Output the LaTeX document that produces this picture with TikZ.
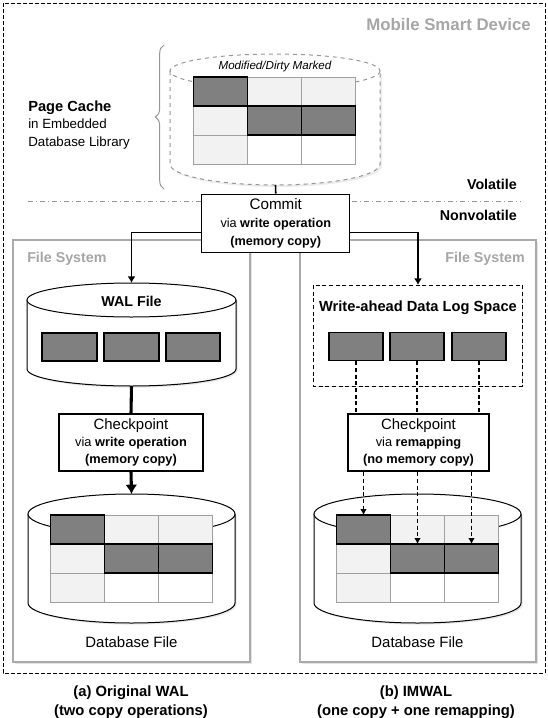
\documentclass[tikz,border=0pt]{standalone}
\usepackage{fontspec}
\setmainfont{Liberation Sans}
\usetikzlibrary{positioning,arrows.meta,shadows,decorations.pathreplacing}

\definecolor{blockgray}{RGB}{128,128,128}
\definecolor{cellgray}{RGB}{242,242,242}
\definecolor{gridgray}{RGB}{160,160,160}
\definecolor{fsgray}{RGB}{170,170,170}
\definecolor{labelgray}{RGB}{166,166,166}
\definecolor{cylgray}{RGB}{150,150,150}

\tikzset{
  devicebox/.style={draw=black, line width=0.75pt, dash pattern=on 3pt off 1.5pt},
  fsbox/.style={draw=fsgray, line width=0.9pt, fill=white, drop shadow={shadow xshift=1.2pt, shadow yshift=-1.2pt, fill=black!22}},
  graylabel/.style={text=labelgray, font=\fontsize{10.7}{13}\selectfont\bfseries, inner sep=0pt},
  boldlabel/.style={font=\fontsize{10.7}{13}\selectfont\bfseries, inner sep=0pt},
  levelline/.style={draw=cylgray, line width=0.75pt, dash pattern=on 4pt off 2pt on 1pt off 2pt},
  cachecyl/.style={draw=cylgray, line width=0.75pt, dashed, fill=white},
  cacheshadow/.style={cachecyl, drop shadow={shadow xshift=1.5pt, shadow yshift=-1.5pt, fill=black!15}},
  cachebrace/.style={draw=cylgray, line width=0.75pt, decorate, decoration={brace, amplitude=6.5pt}},
  diskcyl/.style={draw=black, line width=0.75pt, fill=white},
  diskshadow/.style={diskcyl, drop shadow={shadow xshift=1.2pt, shadow yshift=-1.2pt, fill=black!18}},
  lightcell/.style={fill=cellgray, draw=gridgray, line width=0.6pt},
  whitecell/.style={fill=white, draw=gridgray, line width=0.6pt},
  darkcell/.style={fill=blockgray, draw=black, line width=1.3pt},
  logblock/.style={darkcell, minimum width=41pt, minimum height=21pt, inner sep=0pt},
  opbox/.style={draw=black, fill=white, line width=0.8pt, align=center, inner sep=0pt},
  logspace/.style={draw=black, fill=white, line width=0.75pt, dash pattern=on 3pt off 2pt, drop shadow={shadow xshift=1pt, shadow yshift=-1pt, fill=black!18}},
  commitarrow/.style={draw=black, line width=1.2pt, -{Latex[length=5pt,width=6pt]}},
  thickline/.style={draw=black, line width=2.3pt},
  thickarrow/.style={thickline, -{Latex[length=7pt,width=9pt]}},
  remapline/.style={draw=black, line width=1pt, dash pattern=on 3pt off 2pt},
  remaparrow/.style={remapline, -{Latex[length=4.5pt,width=5pt]}}
}

\begin{document}
\begin{tikzpicture}[x=0.75pt,y=-0.75pt]
\useasboundingbox (0,0) rectangle (548,718);

\draw[devicebox] (3,3) rectangle (545,673); %mobile smart device
\node[graylabel, anchor=east, font=\fontsize{12.6}{15}\selectfont\bfseries] (device) at (531,24) {Mobile Smart Device};

\draw[fsbox] (13,240) rectangle (250,662); %file system (a)
\draw[fsbox] (300,240) rectangle (536,662); %file system (b)
\node[graylabel, anchor=west] (fsA) at (27,259) {File System};
\node[graylabel, anchor=east] (fsB) at (525,259) {File System};

\draw[levelline] (28,201) -- (521,201); %volatile / nonvolatile
\node[boldlabel, anchor=east] (volatile) at (517,184) {Volatile};
\node[boldlabel, anchor=east] (nonvolatile) at (517,215) {Nonvolatile};

% page cache
\draw[cacheshadow] (170,71) -- (170,164) arc[start angle=180, end angle=0, x radius=105, y radius=21] -- (380,71); %cache body
\draw[cachecyl] (275,71) ellipse[x radius=105, y radius=17]; %cache top
\node[font=\fontsize{8.7}{10}\selectfont\itshape, inner sep=0pt] (dirty) at (275,66) {Modified/Dirty Marked};

\filldraw[lightcell] (247.5,77) rectangle (301.5,106); %row 1
\filldraw[lightcell] (301.5,77) rectangle (355.5,106);
\filldraw[lightcell] (193.5,106) rectangle (247.5,135); %row 2
\filldraw[lightcell] (193.5,135) rectangle (247.5,164); %row 3
\filldraw[whitecell] (247.5,135) rectangle (301.5,164);
\filldraw[whitecell] (301.5,135) rectangle (355.5,164);
\filldraw[darkcell] (193.5,77) rectangle (247.5,106); %dirty pages
\filldraw[darkcell] (247.5,106) rectangle (301.5,135);
\filldraw[darkcell] (301.5,106) rectangle (355.5,135);

\draw[cachebrace] (164,189) -- (164,45); %page cache brace
\node[anchor=west, align=left, inner sep=0pt, font=\fontsize{10}{13}\selectfont] (cachelabel) at (28,125) {{\fontsize{11}{13}\selectfont\bfseries Page Cache}\\in Embedded\\Database Library};

% commit
\coordinate (cacheBot) at (275.5,185);
\node[opbox, font=\fontsize{9.5}{13.5}\selectfont, minimum width=111pt, minimum height=44pt] (commit) at (275.75,223.5) {{\fontsize{11.4}{13.5}\selectfont Commit}\\via \textbf{write operation}\\\textbf{(memory copy)}};
\draw[draw=black, line width=1.2pt] (cacheBot) -- (commit.north);

\coordinate (walTop) at (131.5,283);
\coordinate (logTop) at (418,285);
\draw[commitarrow] ([yshift=-6.75pt]commit.west) -| (walTop);
\draw[commitarrow] ([yshift=-6.75pt]commit.east) -| (logTop);

% (a) original WAL
\draw[diskshadow] (27,300) -- (27,369) arc[start angle=180, end angle=0, x radius=104.5, y radius=17] -- (236,300); %wal body
\draw[diskcyl] (131.5,300) ellipse[x radius=104.5, y radius=17]; %wal top
\node[boldlabel] (wallabel) at (131.5,301) {WAL File};
\node[logblock] (wal1) at (69.5,347) {};
\node[logblock] (wal2) at (131.5,347) {};
\node[logblock] (wal3) at (193,347) {};

\node[opbox, font=\fontsize{9.6}{12.5}\selectfont, minimum width=108pt, minimum height=42.75pt] (cpA) at (131,442.5) {{\fontsize{11.2}{12.5}\selectfont Checkpoint}\\via \textbf{write operation}\\\textbf{(memory copy)}};
\coordinate (walBot) at (131.5,386);
\coordinate (dbATop) at (131.5,494);
\draw[thickline] (walBot) -- (cpA.north);
\draw[thickarrow] (cpA.south) -- (dbATop);

\draw[diskshadow] (28,514) -- (28,603) arc[start angle=180, end angle=0, x radius=103.5, y radius=20] -- (235,514); %db body
\draw[diskcyl] (131.5,514) ellipse[x radius=103.5, y radius=20]; %db top
\filldraw[lightcell] (104.5,515) rectangle (158.5,544); %row 1
\filldraw[lightcell] (158.5,515) rectangle (212.5,544);
\filldraw[lightcell] (50.5,544) rectangle (104.5,573); %row 2
\filldraw[lightcell] (50.5,573) rectangle (104.5,602); %row 3
\filldraw[whitecell] (104.5,573) rectangle (158.5,602);
\filldraw[whitecell] (158.5,573) rectangle (212.5,602);
\filldraw[darkcell] (50.5,515) rectangle (104.5,544); %checkpointed pages
\filldraw[darkcell] (104.5,544) rectangle (158.5,573);
\filldraw[darkcell] (158.5,544) rectangle (212.5,573);
\node[font=\fontsize{11.2}{13}\selectfont, inner sep=0pt] (dbAlabel) at (131.5,642) {Database File};

% (b) IMWAL
\draw[logspace] (313,285) rectangle (522,386); %log space
\node[boldlabel, font=\fontsize{11}{13}\selectfont\bfseries] (loglabel) at (418,308) {Write-ahead Data Log Space};
\node[logblock] (log1) at (356,346.5) {};
\node[logblock] (log2) at (417,346.5) {};
\node[logblock] (log3) at (479,346.5) {};

\node[opbox, line width=1.9pt, font=\fontsize{9.6}{12.5}\selectfont, minimum width=105.75pt, minimum height=42.75pt] (cpB) at (418.5,442.5) {{\fontsize{11.2}{12.5}\selectfont Checkpoint}\\via \textbf{remapping}\\\textbf{(no memory copy)}};
\draw[remapline] (log1.south) -- (log1.south |- cpB.north);
\draw[remapline] (log2.south) -- (log2.south |- cpB.north);
\draw[remapline] (log3.south) -- (log3.south |- cpB.north);

\draw[diskshadow] (314,514) -- (314,603) arc[start angle=180, end angle=0, x radius=103.5, y radius=20] -- (521,514); %db body
\draw[diskcyl] (417.5,514) ellipse[x radius=103.5, y radius=20]; %db top
\filldraw[lightcell] (390.5,515) rectangle (444.5,544); %row 1
\filldraw[lightcell] (444.5,515) rectangle (498.5,544);
\filldraw[lightcell] (336.5,544) rectangle (390.5,573); %row 2
\filldraw[lightcell] (336.5,573) rectangle (390.5,602); %row 3
\filldraw[whitecell] (390.5,573) rectangle (444.5,602);
\filldraw[whitecell] (444.5,573) rectangle (498.5,602);
\filldraw[darkcell] (336.5,515) rectangle (390.5,544); %remapped pages
\filldraw[darkcell] (390.5,544) rectangle (444.5,573);
\filldraw[darkcell] (444.5,544) rectangle (498.5,573);
\node[font=\fontsize{11.2}{13}\selectfont, inner sep=0pt] (dbBlabel) at (417.5,642) {Database File};

\coordinate (dbB1) at (363.5,515);
\coordinate (dbB2) at (417.5,544);
\coordinate (dbB3) at (471.5,544);
\draw[remaparrow] (cpB.south -| dbB1) -- (dbB1);
\draw[remaparrow] (cpB.south -| dbB2) -- (dbB2);
\draw[remaparrow] (cpB.south -| dbB3) -- (dbB3);

\node[boldlabel, align=center, font=\fontsize{11.1}{14.25}\selectfont\bfseries] (capA) at (131,702.5) {(a) Original WAL\\(two copy operations)};
\node[boldlabel, align=center, font=\fontsize{11.1}{14.25}\selectfont\bfseries] (capB) at (416,702.5) {(b) IMWAL\\(one copy + one remapping)};

\end{tikzpicture}
\end{document}
